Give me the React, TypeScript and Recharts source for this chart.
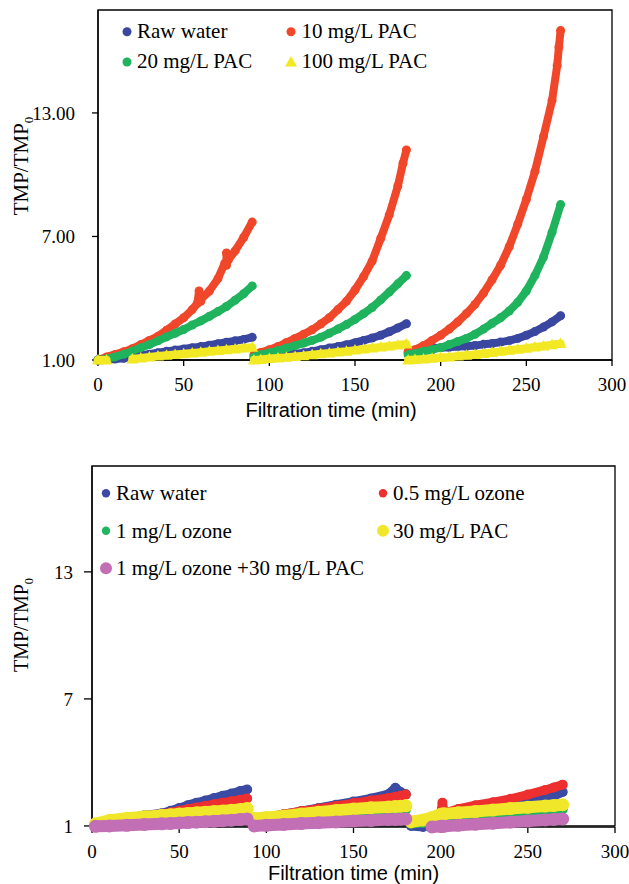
import React from 'react';
import { ScatterChart, Scatter, XAxis, YAxis, ReferenceArea, Label } from 'recharts';

const SERIF = '"Liberation Serif", "Times New Roman", serif';
const SANS = '"Liberation Sans", Arial, sans-serif';

// ---- top panel: PAC dosages ----
const topLabels = ['Raw water', '10 mg/L PAC', '20 mg/L PAC', '100 mg/L PAC'];
const topTime1 = [0, 5, 10, 15, 20, 25, 30, 35, 40, 45, 50, 55, 60, 65, 70, 75, 80, 85, 90];
const topTime2 = [91, 95, 100, 105, 110, 115, 120, 125, 130, 135, 140, 145, 150, 155, 160, 165, 170, 175, 180];
const topTime3 = [181, 185, 190, 195, 200, 205, 210, 215, 220, 225, 230, 235, 240, 245, 250, 255, 260, 265, 270];

const rawTop1 = [1.0, 1.02, 1.05, 1.08, 1.15, 1.22, 1.28, 1.35, 1.42, 1.48, 1.54, 1.6, 1.65, 1.72, 1.79, 1.86, 1.93, 2.0, 2.1];
const rawTop2 = [1.05, 1.1, 1.15, 1.19, 1.23, 1.29, 1.35, 1.42, 1.5, 1.58, 1.65, 1.74, 1.84, 1.95, 2.07, 2.2, 2.37, 2.56, 2.76];
const rawTop3 = [1.35, 1.45, 1.52, 1.57, 1.6, 1.62, 1.65, 1.67, 1.7, 1.76, 1.8, 1.87, 1.94, 2.05, 2.2, 2.38, 2.6, 2.85, 3.15];

const pac10_1 = [1.0, 1.15, 1.27, 1.4, 1.55, 1.75, 1.95, 2.15, 2.45, 2.75, 3.05, 3.45, 3.85, 4.35, 4.95, 5.6, 6.3, 6.95, 7.7];
const pac10_2 = [1.25, 1.37, 1.5, 1.65, 1.85, 2.05, 2.25, 2.47, 2.75, 3.05, 3.45, 3.85, 4.4, 5.05, 5.8, 6.9, 8.05, 9.45, 11.2];
const pac10_3 = [1.4, 1.5, 1.7, 1.95, 2.2, 2.5, 2.85, 3.25, 3.7, 4.25, 4.9, 5.6, 6.5, 7.6, 8.8, 10.15, 11.85, 13.6, 17.0];
const pac10Extra = [[58, 3.75], [59, 4.35], [60, 3.95], [74, 5.7], [75, 6.2], [76, 5.85], [178, 10.55], [268, 15.3], [269, 16.2]];

const pac20_1 = [1.0, 1.05, 1.15, 1.28, 1.43, 1.6, 1.75, 1.93, 2.12, 2.3, 2.48, 2.7, 2.9, 3.12, 3.35, 3.6, 3.9, 4.22, 4.6];
const pac20_2 = [1.15, 1.26, 1.35, 1.46, 1.58, 1.7, 1.82, 1.95, 2.1, 2.3, 2.5, 2.72, 2.97, 3.25, 3.55, 3.92, 4.3, 4.7, 5.1];
const pac20_3 = [1.25, 1.32, 1.42, 1.5, 1.6, 1.75, 1.9, 2.05, 2.25, 2.5, 2.78, 3.05, 3.38, 3.8, 4.35, 5.1, 6.0, 7.2, 8.55];

const pac100_1 = [1.0, 1.0, null, null, 1.05, 1.1, 1.15, 1.19, 1.23, 1.27, 1.3, 1.34, 1.38, 1.42, 1.46, 1.5, 1.54, 1.58, 1.62];
const pac100_2 = [1.0, 1.03, 1.07, 1.1, 1.13, 1.17, 1.21, 1.26, 1.3, 1.34, 1.39, 1.43, 1.48, 1.53, 1.58, 1.63, 1.68, 1.73, 1.78];
const pac100_3 = [1.0, 1.02, 1.05, 1.08, 1.12, 1.15, 1.19, 1.23, 1.27, 1.32, 1.37, 1.42, 1.47, 1.52, 1.57, 1.63, 1.68, 1.74, 1.8];

// ---- bottom panel: ozone / PAC ----
const botLabels = ['Raw water', '0.5 mg/L ozone', '1 mg/L ozone', '30 mg/L PAC', '1 mg/L ozone +30 mg/L PAC'];
const botTime1 = [2, 10, 20, 30, 40, 45, 50, 55, 60, 65, 70, 75, 80, 85, 89];
const botTime2 = [93, 100, 110, 120, 130, 140, 150, 160, 170, 174, 177, 180];
const botTime3 = [183, 190, 195, 200, 201, 202, 210, 220, 230, 240, 250, 260, 265, 270];

const rawBot1 = [1.1, 1.25, 1.38, 1.5, 1.6, 1.72, 1.85, 1.98, 2.1, 2.2, 2.32, 2.43, 2.53, 2.65, 2.72];
const rawBot2 = [1.3, 1.4, 1.55, 1.7, 1.85, 2.0, 2.15, 2.3, 2.5, 2.8, 2.6, 2.5];
const rawBot3 = [1.0, 0.95, 1.2, 1.5, 1.52, 1.54, 1.6, 1.72, 1.85, 1.98, 2.12, 2.3, 2.42, 2.6];

const oz05_1 = [1.1, 1.25, 1.38, 1.48, 1.57, 1.64, 1.72, 1.8, 1.87, 1.95, 2.03, 2.1, 2.17, 2.24, 2.3];
const oz05_2 = [1.3, 1.4, 1.55, 1.7, 1.82, 1.95, 2.08, 2.2, 2.32, 2.38, 2.43, 2.48];
const oz05_3 = [1.1, 1.2, 1.4, 1.6, 2.1, 1.62, 1.8, 1.98, 2.12, 2.28, 2.48, 2.7, 2.82, 2.95];

const oz1_1 = [1.05, 1.15, 1.23, 1.3, 1.37, 1.4, 1.44, 1.47, 1.51, 1.54, 1.58, 1.61, 1.64, 1.67, 1.7];
const oz1_2 = [1.15, 1.2, 1.3, 1.37, 1.45, 1.52, 1.58, 1.63, 1.7, 1.72, 1.74, 1.76];
const oz1_3 = [1.1, 1.15, 1.2, 1.3, 1.3, 1.3, 1.37, 1.45, 1.52, 1.6, 1.66, 1.72, 1.75, 1.78];

const pac30_1 = [1.1, 1.27, 1.36, 1.43, 1.5, 1.53, 1.56, 1.59, 1.62, 1.65, 1.68, 1.71, 1.74, 1.78, 1.82];
const pac30_2 = [1.35, 1.4, 1.47, 1.56, 1.65, 1.73, 1.8, 1.86, 1.9, 1.92, 1.93, 1.95];
const pac30_3 = [1.2, 1.28, 1.4, 1.55, 1.56, 1.57, 1.62, 1.68, 1.75, 1.82, 1.88, 1.94, 1.97, 2.0];

const ozPac_1 = [0.98, 1.0, 1.03, 1.07, 1.1, 1.12, 1.14, 1.16, 1.18, 1.2, 1.22, 1.25, 1.27, 1.3, 1.33];
const ozPac_2 = [1.0, 1.03, 1.07, 1.11, 1.15, 1.19, 1.23, 1.26, 1.3, 1.31, 1.32, 1.33];
const ozPac_3 = [null, null, 0.95, 0.98, 0.98, 0.99, 1.03, 1.08, 1.13, 1.18, 1.23, 1.28, 1.31, 1.33];

const xTicks = [0, 50, 100, 150, 200, 250, 300];
const yTicks = [1, 7, 13];

type Pt = { t: number; v: number };

function segments(times: number[], values: (number | null)[], extra: number[][] = []): Pt[][] {
  const pts: { t: number; v: number | null }[] = times.map((t, i) => ({ t, v: values[i] }));
  extra.forEach(([t, v]) => pts.push({ t, v }));
  pts.sort((a, b) => a.t - b.t);
  const out: Pt[][] = [];
  let cur: Pt[] = [];
  pts.forEach((p) => {
    if (p.v == null) {
      if (cur.length) out.push(cur);
      cur = [];
    } else cur.push({ t: p.t, v: p.v });
  });
  if (cur.length) out.push(cur);
  return out;
}

type Series = { color: string; r: number; w: number; tri?: boolean; segs: Pt[][] };

const topTimes = [topTime1, topTime2, topTime3];
const topSeries: Series[] = [
  { color: '#3a47a0', r: 4.5, w: 8, segs: [rawTop1, rawTop2, rawTop3].flatMap((v, i) => segments(topTimes[i], v)) },
  {
    color: '#f0472a', r: 4.5, w: 8,
    segs: [
      ...segments(topTime1, pac10_1, pac10Extra.filter((p) => p[0] <= 90)),
      ...segments(topTime2, pac10_2, pac10Extra.filter((p) => p[0] > 90 && p[0] <= 180)),
      ...segments(topTime3, pac10_3, pac10Extra.filter((p) => p[0] > 180)),
    ],
  },
  { color: '#1fb35e', r: 4.5, w: 8, segs: [pac20_1, pac20_2, pac20_3].flatMap((v, i) => segments(topTimes[i], v)) },
  { color: '#f2e824', r: 5, w: 8, tri: true, segs: [pac100_1, pac100_2, pac100_3].flatMap((v, i) => segments(topTimes[i], v)) },
];

const botTimes = [botTime1, botTime2, botTime3];
const botSeries: Series[] = [
  { color: '#3b4aa2', r: 5, w: 9, segs: [rawBot1, rawBot2, rawBot3].flatMap((v, i) => segments(botTimes[i], v)) },
  { color: '#ee2f2f', r: 5, w: 9, segs: [oz05_1, oz05_2, oz05_3].flatMap((v, i) => segments(botTimes[i], v)) },
  { color: '#22b45e', r: 5, w: 9, segs: [oz1_1, oz1_2, oz1_3].flatMap((v, i) => segments(botTimes[i], v)) },
  { color: '#f1e72a', r: 6.5, w: 12, segs: [pac30_1, pac30_2, pac30_3].flatMap((v, i) => segments(botTimes[i], v)) },
  { color: '#c26fb6', r: 6.5, w: 12, segs: [ozPac_1, ozPac_2, ozPac_3].flatMap((v, i) => segments(botTimes[i], v)) },
];

function renderSeries(list: Series[], prefix: string) {
  return list.flatMap((s, si) =>
    s.segs.map((seg, gi) => (
      <Scatter
        key={`${prefix}-${si}-${gi}`}
        data={seg}
        dataKey="v"
        fill={s.color}
        line={{ stroke: s.color, strokeWidth: s.w, strokeLinejoin: 'round', strokeLinecap: 'round' }}
        lineType="joint"
        isAnimationActive={false}
        shape={(p: any) =>
          s.tri ? (
            <path d={`M${p.cx},${p.cy - 6}L${p.cx + 6},${p.cy + 4.5}L${p.cx - 6},${p.cy + 4.5}Z`} fill={s.color} />
          ) : (
            <circle cx={p.cx} cy={p.cy} r={s.r} fill={s.color} />
          )
        }
      />
    ))
  );
}

const yTitle = (x: number, y: number, size: number) => () => (
  <text x={x} y={y} transform={`rotate(-90, ${x}, ${y})`} textAnchor="middle" fontFamily={SERIF} fontSize={size} fill="#000">
    TMP/TMP
    <tspan fontSize={size * 0.62} dy={5}>0</tspan>
  </text>
);

const xTitle = (x: number, y: number) => () => (
  <text x={x} y={y} textAnchor="middle" fontFamily={SANS} fontSize={20} fill="#000">
    Filtration time (min)
  </text>
);

const axisLine = { stroke: '#000', strokeWidth: 1.3 };
const tickStyle = { fill: '#000', fontSize: 19, fontFamily: SERIF };

function Panel({ series, prefix, height, margin, xAxisH, yAxisW, yTickSize, yTickMargin, fmt, yt, xt }: any) {
  return (
    <ScatterChart width={629} height={height} margin={margin}>
      <XAxis
        type="number" dataKey="t" domain={[0, 300]} ticks={xTicks} interval={0}
        height={xAxisH} tick={tickStyle} tickSize={6} tickMargin={12}
        axisLine={axisLine} tickLine={{ stroke: '#000', strokeWidth: 1.3 }}
      >
        <Label content={xt} />
      </XAxis>
      <YAxis
        type="number" dataKey="v" domain={[1, 18]} ticks={yTicks} interval={0}
        width={yAxisW} tick={tickStyle} tickSize={yTickSize} tickMargin={yTickMargin}
        tickFormatter={fmt} axisLine={axisLine} tickLine={{ stroke: '#000', strokeWidth: 1.3 }}
      >
        <Label content={yt} />
      </YAxis>
      <ReferenceArea x1={0} x2={300} y1={1} y2={18} fill="none" stroke="#000" strokeWidth={1.3} />
      {renderSeries(series, prefix)}
    </ScatterChart>
  );
}

function Dot({ x, y, r, color, tri }: { x: number; y: number; r: number; color: string; tri?: boolean }) {
  if (tri) return <path d={`M${x},${y - 6}L${x + 6},${y + 4.5}L${x - 6},${y + 4.5}Z`} fill={color} />;
  return <circle cx={x} cy={y} r={r} fill={color} />;
}

export default function App() {
  const topPos = [
    [127, 31.7, 137, 37.7],
    [291, 31.7, 301.5, 37.7],
    [127, 62, 137, 68.3],
    [291, 62, 301.5, 68.3],
  ];
  const botPos = [
    [106, 493.3, 116, 500],
    [383, 493.3, 393, 500],
    [106, 530.7, 116, 537.7],
    [383, 530.7, 393, 537.7],
    [106, 568.3, 116, 575],
  ];
  const botDotR = [4.2, 4.2, 4.2, 6, 6];
  return (
    <div style={{ position: 'absolute', left: 0, top: 0, width: 629, height: 884, background: '#fff' }}>
      <div style={{ position: 'absolute', left: 0, top: 0 }}>
        <Panel
          series={topSeries} prefix="top" height={430}
          margin={{ top: 10, right: 17, bottom: 0, left: 0 }}
          xAxisH={70} yAxisW={98} yTickSize={6} yTickMargin={17}
          fmt={(v: number) => v.toFixed(2)}
          yt={yTitle(28, 166, 21)} xt={xTitle(331, 417)}
        />
      </div>
      <div style={{ position: 'absolute', left: 0, top: 440 }}>
        <Panel
          series={botSeries} prefix="bot" height={444}
          margin={{ top: 26, right: 14, bottom: 0, left: 0 }}
          xAxisH={57} yAxisW={92} yTickSize={8} yTickMargin={11}
          fmt={(v: number) => String(v)}
          yt={yTitle(28, 185, 20)} xt={xTitle(353.5, 440)}
        />
      </div>
      <svg width={629} height={884} style={{ position: 'absolute', left: 0, top: 0, pointerEvents: 'none' }}>
        {topLabels.map((lab, i) => (
          <g key={`tl${i}`}>
            <Dot x={topPos[i][0]} y={topPos[i][1]} r={4.5} color={topSeries[i].color} tri={topSeries[i].tri} />
            <text x={topPos[i][2]} y={topPos[i][3]} fontFamily={SERIF} fontSize={21} fill="#000">{lab}</text>
          </g>
        ))}
        {botLabels.map((lab, i) => (
          <g key={`bl${i}`}>
            <Dot x={botPos[i][0]} y={botPos[i][1]} r={botDotR[i]} color={botSeries[i].color} />
            <text x={botPos[i][2]} y={botPos[i][3]} fontFamily={SERIF} fontSize={21} fill="#000">{lab}</text>
          </g>
        ))}
      </svg>
    </div>
  );
}
